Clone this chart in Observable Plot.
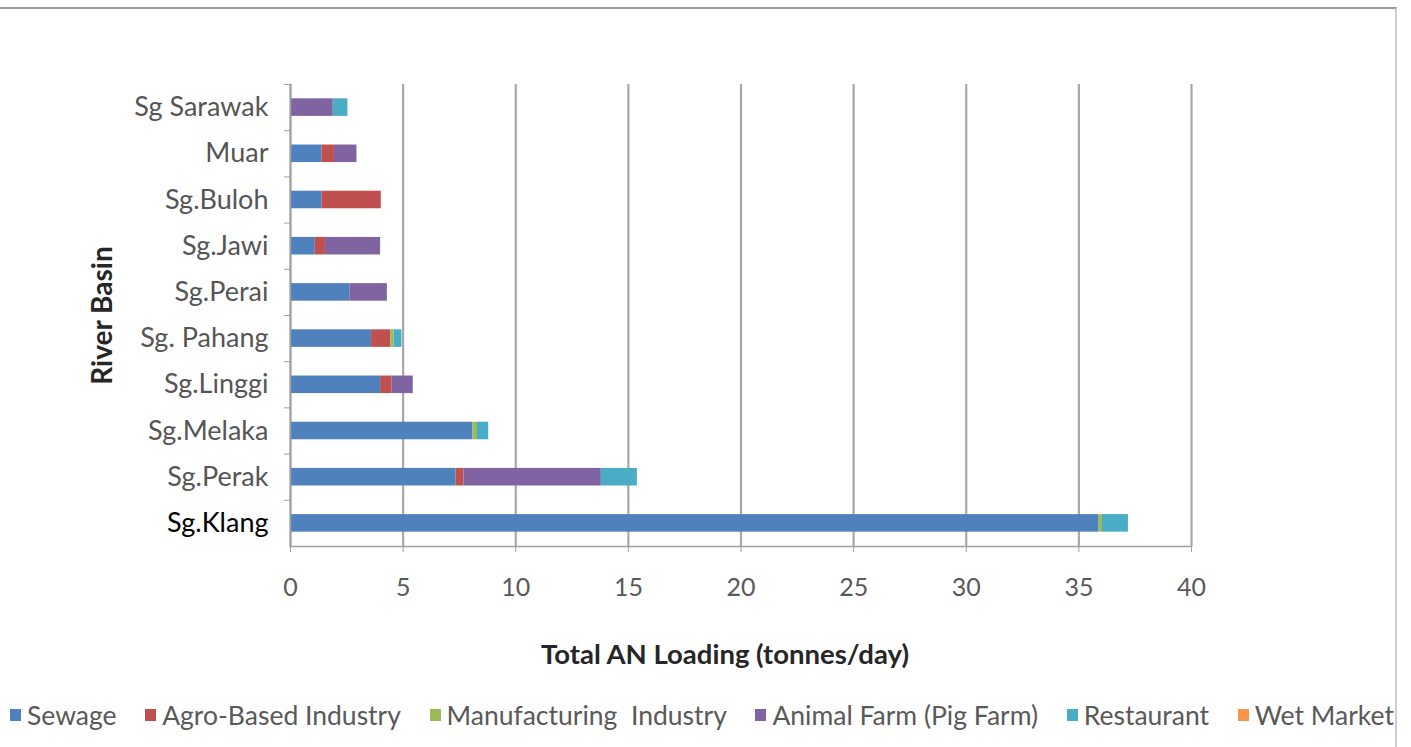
<!DOCTYPE html>
<html>
<head>
<meta charset="utf-8">
<script src="https://cdn.jsdelivr.net/npm/d3@7"></script>
<script src="https://cdn.jsdelivr.net/npm/@observablehq/plot@0.6"></script>
<style>
  html, body { margin: 0; padding: 0; background: #fff; }
  body { width: 1411px; height: 747px; position: relative; overflow: hidden; font-family: Lato, "Open Sans", sans-serif; }
  #frame { position: absolute; left: 0; top: 7px; width: 1397px; height: 745px; border-top: 2px solid #9a9a9a; border-right: 2px solid #cfcfcf; box-sizing: border-box; }
  #chart { position: absolute; left: 0; top: 0; }
  #legend { position: absolute; left: 10px; top: 699px; width: 1384px; display: flex; justify-content: space-between; font-size: 26.5px; color: #595959; white-space: pre; }
  #legend .item { display: flex; align-items: center; }
  #legend .sw { width: 11px; height: 12px; margin-right: 6px; }
</style>
</head>
<body>
<div id="frame"></div>
<div id="chart"></div>
<div id="legend"></div>
<script>
const categories = ["Sg Sarawak", "Muar", "Sg.Buloh", "Sg.Jawi", "Sg.Perai", "Sg. Pahang", "Sg.Linggi", "Sg.Melaka", "Sg.Perak", "Sg.Klang"];
const sources = ["Sewage", "Agro-Based Industry", "Manufacturing  Industry", "Animal Farm (Pig Farm)", "Restaurant", "Wet Market"];
const sewage        = [0,    1.4,  1.4,  1.1,  2.65, 3.6,  4.0,  8.1,  7.35, 35.9];
const agroBased     = [0,    0.55, 2.63, 0.45, 0,    0.85, 0.5,  0,    0.35, 0];
const manufacturing = [0,    0,    0,    0,    0,    0.15, 0,    0.2,  0,    0.15];
const animalFarm    = [1.9,  1.0,  0,    2.45, 1.65, 0,    0.95, 0,    6.1,  0];
const restaurant    = [0.65, 0,    0,    0,    0,    0.35, 0,    0.5,  1.6,  1.15];
const wetMarket     = [0,    0,    0,    0,    0,    0,    0,    0,    0,    0];
const xTicks = [0, 5, 10, 15, 20, 25, 30, 35, 40];
const colors = ["#4F81BD", "#C0504D", "#9BBB59", "#8064A2", "#4BACC6", "#F79646"];

const seriesValues = [sewage, agroBased, manufacturing, animalFarm, restaurant, wetMarket];
const rows = [];
sources.forEach((s, i) => categories.forEach((c, j) => rows.push({basin: c, source: s, value: seriesValues[i][j]})));

const W = 1411, H = 690, mt = 84, mb = 144, ml = 290, mr = 220;
const padIn = 0.62, padOut = 0.31;
const step = (H - mt - mb) / (categories.length - padIn + 2 * padOut);

const chart = Plot.plot({
  width: W, height: H,
  marginTop: mt, marginBottom: mb, marginLeft: ml, marginRight: mr,
  style: {fontFamily: "Lato, 'Open Sans', sans-serif", background: "transparent"},
  x: {domain: [0, 40]},
  y: {domain: categories, paddingInner: padIn, paddingOuter: padOut, round: false},
  color: {domain: sources, range: colors},
  marks: [
    Plot.gridX(xTicks, {stroke: "#a8a8a8", strokeWidth: 2.2, strokeOpacity: 1}),
    Plot.barX(rows, Plot.stackX({x: "value", y: "basin", fill: "source"})),
    Plot.frame({anchor: "left", stroke: "#a0a0a0", strokeWidth: 1.5}),
    Plot.frame({anchor: "bottom", stroke: "#a0a0a0", strokeWidth: 1.5}),
    Plot.axisX(xTicks, {tickSize: 6, tickPadding: 26, fontSize: 25, fill: "#595959", stroke: "#a0a0a0",
      label: "Total AN Loading (tonnes/day)", labelAnchor: "center", labelOffset: 117, labelArrow: "none"}),
    Plot.axisY({tickSize: 6, text: null, stroke: "#a0a0a0", dy: -step / 2, label: null}),
    Plot.axisY({tickSize: 0, tickPadding: 22, fontSize: 27,
      fill: d => d === "Sg.Klang" ? "#000" : "#555",
      label: "River Basin", labelAnchor: "center", labelOffset: 198, labelArrow: "none"})
  ]
});
document.getElementById("chart").appendChild(chart);

// bold axis titles
chart.querySelectorAll("[aria-label='x-axis label'], [aria-label='y-axis label']").forEach(g => {
  g.setAttribute("font-weight", "bold");
  g.setAttribute("fill", "#262626");
});
const xl = chart.querySelector("[aria-label='x-axis label']");
if (xl) {
  xl.setAttribute("font-size", 27.5);
  xl.setAttribute("transform", ((xl.getAttribute("transform") || "") + " translate(-16,0)").trim());
}
const yl = chart.querySelector("[aria-label='y-axis label']");
if (yl) yl.setAttribute("font-size", 28);

const legend = document.getElementById("legend");
sources.forEach((s, i) => {
  const item = document.createElement("div");
  item.className = "item";
  const sw = document.createElement("span");
  sw.className = "sw";
  sw.style.background = colors[i];
  const t = document.createElement("span");
  t.textContent = s;
  item.appendChild(sw);
  item.appendChild(t);
  legend.appendChild(item);
});
</script>
</body>
</html>
